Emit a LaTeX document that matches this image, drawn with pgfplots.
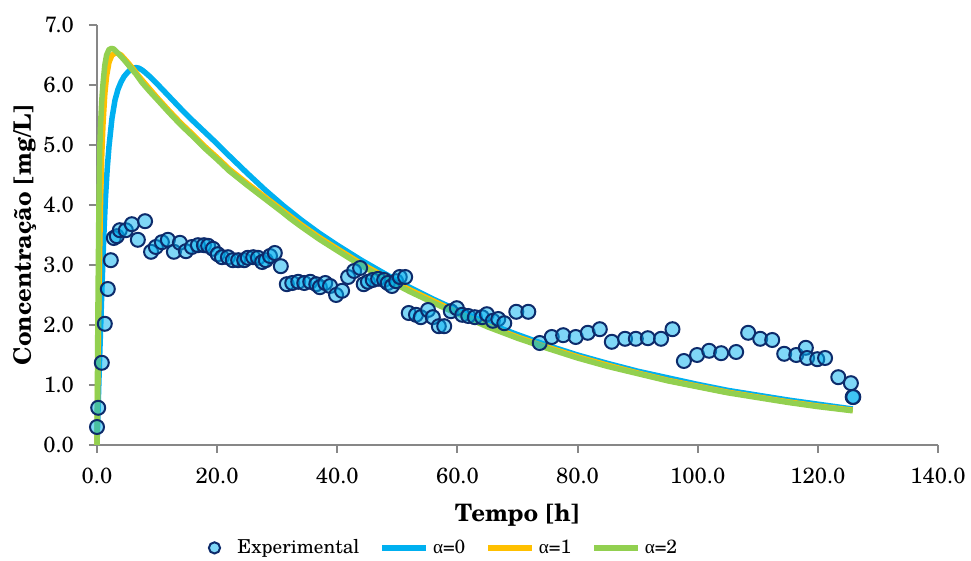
\documentclass[border=0pt]{standalone}
\usepackage{pgfplots}
\pgfplotsset{compat=1.18}
\usepackage{fontspec}
\setmainfont{texgyreschola}[Extension=.otf, UprightFont=*-regular, BoldFont=*-bold, ItalicFont=*-italic, BoldItalicFont=*-bolditalic]
\newfontfamily\greekfont{Liberation Serif}

\definecolor{expedge}{HTML}{0D2B6B}
\definecolor{aZero}{HTML}{00B0F0}
\definecolor{aOne}{HTML}{FFC000}
\definecolor{aTwo}{HTML}{92D050}
\definecolor{axisgray}{HTML}{878787}

\pgfplotsset{
    linelegend/.style={legend image code/.code={\draw[##1] (0pt,0pt) -- (22pt,0pt);}},
    marklegend/.style={legend image code/.code={%
        \draw[##1] plot coordinates {(3.5pt,0pt)};
        \path[draw=none, fill=none] (0pt,-1pt) rectangle (13pt,1pt);}},
}

\begin{document}
\begin{tikzpicture}
\begin{axis}[
    scale only axis,
    width=420.5pt, height=210pt,
    xmin=0, xmax=140, ymin=0, ymax=7,
    xtick={0,20,...,140}, ytick={0,1,...,7},
    axis x line*=bottom, axis y line*=left,
    axis line style={axisgray, line width=1pt},
    tick align=outside, major tick length=4pt,
    tick style={axisgray, line width=1pt},
    xticklabel style={font=\fontsize{11}{13}\selectfont, yshift=-4pt},
    yticklabel style={font=\fontsize{11}{13}\selectfont, xshift=-4pt},
    /pgf/number format/.cd, fixed, fixed zerofill, precision=1, assume math mode=true,
    /pgfplots/.cd,
    xlabel={Tempo [h]},
    ylabel={Concentração [mg/L]},
    label style={font=\bfseries\fontsize{12}{14}\selectfont},
    xlabel style={at={(axis description cs:0.5,-0.168)}, anchor=center},
    ylabel style={at={(axis description cs:-0.086,0.5)}, anchor=center},
    clip=false,
    legend columns=4,
    legend style={draw=none, fill=none, at={(0.413,-0.245)}, anchor=center,
        font=\fontsize{9.6}{12}\selectfont,
        /tikz/every even column/.append style={column sep=8pt}},
]
\addlegendimage{only marks, mark=*, mark size=2.8pt,
    mark options={draw=expedge, fill=aZero, fill opacity=0.5, line width=1pt},
    marklegend}
\addlegendentry{Experimental}
\addlegendimage{aZero, line width=2.75pt, linelegend}
\addlegendentry{{\greekfont α}=0}
\addlegendimage{aOne, line width=2.75pt, linelegend}
\addlegendentry{{\greekfont α}=1}
\addlegendimage{aTwo, line width=2.75pt, linelegend}
\addlegendentry{{\greekfont α}=2}

% alpha = 0
\addplot[aZero, line width=2.75pt, line join=round, forget plot] coordinates {
(0,0) (0.4,1.35) (0.8,2.55) (1.1,3.4) (1.4,4.1) (1.7,4.6) (2.0,4.98) (2.5,5.45)
(3.0,5.75) (3.5,5.93) (4.0,6.05) (4.5,6.14) (5.0,6.2) (5.5,6.25) (6.0,6.28)
(6.5,6.29) (7.0,6.28) (7.5,6.25) (8.0,6.21) (8.8,6.14) (10,6.02) (12,5.81)
(14,5.60) (16,5.40) (18,5.21) (20,5.02) (22,4.82) (25,4.53) (28,4.25) (31,3.99)
(34,3.75) (37,3.53) (40,3.33) (44,3.08) (48,2.85) (52,2.63) (56,2.43) (58.8,2.30)
(60,2.25) (65,2.03) (70,1.84) (75,1.66) (80,1.50) (85,1.36) (90,1.23) (95,1.12)
(100,1.01) (105,0.91) (110,0.83) (115,0.75) (120,0.68) (125.8,0.60)
};
% alpha = 1
\addplot[aOne, line width=2.75pt, line join=round, forget plot] coordinates {
(0,0) (0.2,1.6) (0.4,3.0) (0.6,4.1) (0.8,4.85) (1.0,5.35) (1.3,5.85) (1.6,6.15)
(2.0,6.38) (2.5,6.5) (3.2,6.54) (4.0,6.5) (5.0,6.39) (6.0,6.27) (7.0,6.14)
(8.8,5.93) (10,5.79) (12,5.57) (14,5.36) (16,5.17) (18,4.97) (20,4.79) (22,4.60)
(25,4.36) (28,4.13) (31,3.90) (34,3.67) (37,3.46) (40,3.27) (44,3.02) (48,2.80)
(52,2.59) (56,2.40) (60,2.21) (65,1.99) (70,1.80) (75,1.63) (80,1.47) (85,1.33)
(90,1.20) (95,1.08) (100,0.98) (105,0.88) (110,0.80) (115,0.72) (120,0.65) (125.8,0.58)
};
% alpha = 2
\addplot[aTwo, line width=2.75pt, line join=round, forget plot] coordinates {
(0,0) (0.15,2.2) (0.3,3.8) (0.45,4.9) (0.6,5.35) (0.8,5.75) (1.0,6.02) (1.3,6.33)
(1.6,6.5) (2.0,6.59) (2.4,6.61) (2.8,6.6) (3.5,6.53) (4.5,6.42) (5.5,6.3)
(6.5,6.18) (7.5,6.04) (8.8,5.89) (10,5.76) (12,5.54) (14,5.33) (16,5.14) (18,4.94)
(20,4.76) (22,4.57) (25,4.33) (28,4.10) (31,3.87) (32.1,3.78) (34,3.64) (37,3.43)
(40,3.24) (44,2.99) (48,2.77) (52,2.56) (56,2.37) (58.8,2.24) (60,2.19) (65,1.97)
(70,1.78) (75,1.61) (80,1.45) (85,1.31) (90,1.19) (95,1.07) (100,0.97) (105,0.87)
(110,0.79) (115,0.71) (120,0.64) (125.8,0.57)
};
% experimental
\addplot[only marks, mark=*, mark size=3.5pt,
    mark options={draw=expedge, fill=aZero, fill opacity=0.5, line width=1pt},
    forget plot] table {
x y
0.0 0.30
0.2 0.62
0.8 1.37
1.3 2.02
1.8 2.60
2.3 3.08
2.8 3.45
3.3 3.48
3.8 3.58
4.8 3.58
5.8 3.68
6.8 3.42
8.0 3.73
9.0 3.22
9.8 3.30
10.8 3.38
11.8 3.42
12.8 3.22
13.8 3.37
14.8 3.23
15.8 3.30
16.8 3.33
17.8 3.33
18.5 3.32
19.3 3.27
20.1 3.18
20.8 3.13
21.8 3.13
22.6 3.08
23.5 3.08
24.5 3.08
25.1 3.12
26.0 3.13
26.8 3.12
27.5 3.05
28.1 3.08
28.8 3.15
29.6 3.20
30.6 2.98
31.6 2.68
32.5 2.70
33.5 2.72
34.5 2.70
35.5 2.72
36.5 2.68
37.1 2.63
38.0 2.70
38.8 2.65
39.8 2.50
40.8 2.57
41.8 2.80
42.8 2.90
43.8 2.95
44.4 2.68
45.1 2.72
45.9 2.75
46.8 2.77
47.8 2.75
48.4 2.70
49.1 2.65
49.8 2.73
50.4 2.80
51.3 2.80
51.9 2.20
53.1 2.17
53.9 2.13
55.1 2.25
55.9 2.13
56.9 1.98
57.8 1.98
58.9 2.23
59.9 2.28
60.8 2.17
61.8 2.15
62.9 2.13
64.1 2.13
64.9 2.18
65.9 2.07
66.8 2.10
67.8 2.03
69.8 2.22
71.8 2.22
73.7 1.70
75.7 1.80
77.6 1.83
79.7 1.80
81.7 1.87
83.7 1.93
85.7 1.72
87.9 1.77
89.7 1.77
91.7 1.78
93.9 1.77
95.8 1.93
97.7 1.40
99.9 1.50
101.9 1.57
103.9 1.53
106.4 1.55
108.4 1.87
110.4 1.77
112.4 1.75
114.4 1.52
116.4 1.50
118.0 1.62
118.2 1.45
119.9 1.43
121.2 1.45
123.4 1.13
125.5 1.03
125.8 0.80
125.9 0.80
};
\end{axis}
\pgfresetboundingbox
\path (-48.5pt,-58pt) rectangle (437pt,222.5pt);
\end{tikzpicture}
\end{document}
